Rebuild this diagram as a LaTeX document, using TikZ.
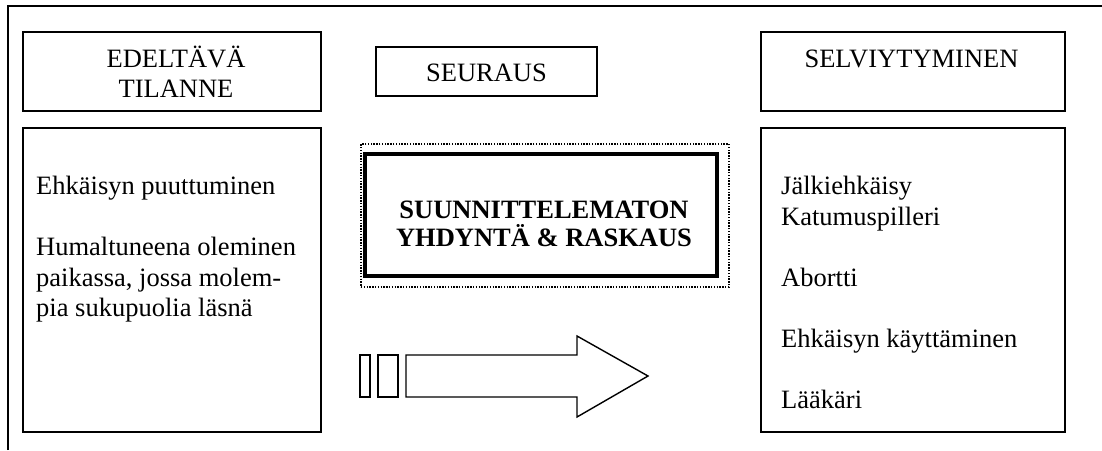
\documentclass[tikz,border=0pt]{standalone}
\usepackage{fontspec}
\setmainfont{Liberation Serif}
\begin{document}
\begin{tikzpicture}[x=1pt,y=-1pt,
  box/.style={draw, line width=1.6pt, rectangle, inner sep=0pt},
  txt/.style={anchor=base west, inner sep=0pt, font=\fontsize{26.5}{30.5}\selectfont},
  ctxt/.style={anchor=base, inner sep=0pt, font=\fontsize{26.5}{30.5}\selectfont},
  btxt/.style={anchor=base, inner sep=0pt, font=\fontsize{26.5}{30.5}\selectfont\bfseries}]
\useasboundingbox (0,0) rectangle (1102,450);

% outer frame (open to the right and bottom)
\draw[line width=1.6pt] (8,450) -- (8,6) -- (1102,6);

% column headings
\node[box, minimum width=298pt, minimum height=79pt] (hleft) at (172,71.5) {};
\node[ctxt] (hlefta) at (176,67) {EDELTÄVÄ};
\node[ctxt] (hleftb) at (176,97.5) {TILANNE};

\node[box, minimum width=221pt, minimum height=49pt] (hmid) at (486.5,71.5) {};
\node[ctxt] (hmidt) at (486.5,81) {SEURAUS};

\node[box, minimum width=304pt, minimum height=79pt] (hright) at (913,71.5) {};
\node[ctxt] (hrightt) at (911.5,67) {SELVIYTYMINEN};

% column contents
\node[box, minimum width=298pt, minimum height=304pt] (cleft) at (172,280) {};
\node[txt] (l1) at (36,194.5) {Ehkäisyn puuttuminen};
\node[txt] (l2) at (36,255.5) {Humaltuneena oleminen};
\node[txt] (l3) at (36,286) {paikassa, jossa molem-};
\node[txt] (l4) at (36,316.5) {pia sukupuolia läsnä};

\node[box, minimum width=304pt, minimum height=304pt] (cright) at (913,280) {};
\node[txt] (r1) at (781,194.5) {Jälkiehkäisy};
\node[txt] (r2) at (781,225) {Katumuspilleri};
\node[txt] (r3) at (781,286) {Abortti};
\node[txt] (r4) at (781,347) {Ehkäisyn käyttäminen};
\node[txt] (r5) at (781,408) {Lääkäri};

% central event
\node[draw, line width=1.4pt, dash pattern=on 1.4pt off 1.4pt, inner sep=0pt,
      minimum width=368pt, minimum height=143pt] (outerdot) at (545,215.5) {};
\node[draw, line width=4.5pt, inner sep=0pt,
      minimum width=352pt, minimum height=122pt] (event) at (541,215) {};
\node[btxt] (e1) at (544,218) {SUUNNITTELEMATON};
\node[btxt] (e2) at (544,246.5) {YHDYNTÄ \& RASKAUS};

% striped block arrow
\draw[line width=1.4pt] (360,355) rectangle (370,397);
\draw[line width=1.4pt] (378,355) rectangle (398,397);
\draw[line width=1.4pt, line join=miter]
  (406,355) -- (577,355) -- (577,336) -- (648,376) -- (577,417)
  -- (577,397) -- (406,397) -- cycle;
\end{tikzpicture}
\end{document}
